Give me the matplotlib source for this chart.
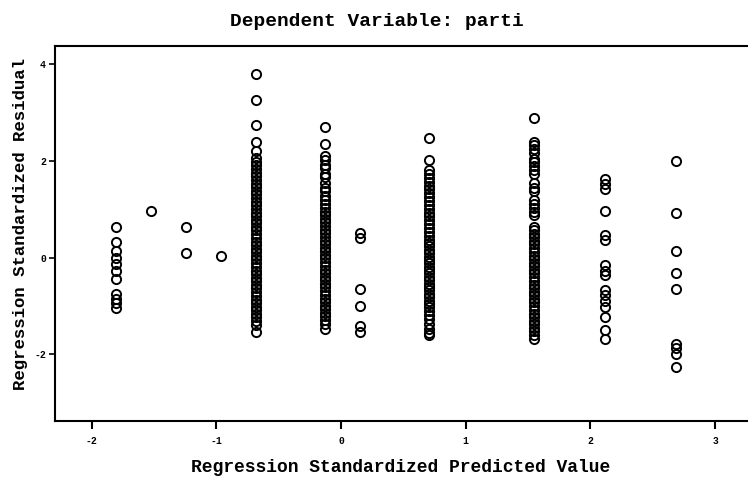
import matplotlib
matplotlib.use("Agg")
import matplotlib.pyplot as plt

plt.rcParams["axes.unicode_minus"] = False

# predicted value groups and their standardized residuals
x_groups = [-1.80, -1.52, -1.24, -0.96, -0.68, -0.13, 0.15, 0.71, 1.55, 2.12, 2.69]

res_a = [0.64, 0.32, 0.14, 0.00, -0.13, -0.27, -0.44, -0.75, -0.85, -0.95, -1.05]
res_b = [0.97]
res_c = [0.64, 0.10]
res_d = [0.03]
res_e = [3.81, 3.27, 2.74, 2.39, 2.20, 2.06, 1.98, 1.91, 1.83, 1.76, 1.68, 1.61,
         1.53, 1.46, 1.38, 1.31, 1.23, 1.16, 1.08, 1.01, 0.93, 0.86, 0.78, 0.71,
         0.63, 0.56, 0.48, 0.41, 0.33, 0.26, 0.18, 0.11, 0.03, -0.04, -0.12,
         -0.19, -0.27, -0.34, -0.42, -0.49, -0.57, -0.64, -0.72, -0.79, -0.87,
         -0.94, -1.02, -1.09, -1.17, -1.24, -1.32, -1.39, -1.54]
res_f = [2.70, 2.35, 2.10, 2.02, 1.92, 1.85, 1.72, 1.66, 1.55, 1.45, 1.38, 1.27,
         1.20, 1.10, 1.03, 0.95, 0.88, 0.80, 0.73, 0.65, 0.58, 0.50, 0.43, 0.35,
         0.28, 0.20, 0.13, 0.05, -0.02, -0.10, -0.17, -0.25, -0.32, -0.40, -0.47,
         -0.55, -0.62, -0.70, -0.77, -0.85, -0.92, -1.00, -1.07, -1.15, -1.22,
         -1.30, -1.37, -1.47]
res_g = [0.50, 0.41, -0.65, -1.00, -1.42, -1.54]
res_h = [2.47, 2.02, 1.81, 1.73, 1.65, 1.57, 1.49, 1.41, 1.33, 1.25, 1.17, 1.09,
         1.01, 0.93, 0.85, 0.77, 0.69, 0.61, 0.53, 0.45, 0.37, 0.30, 0.23, 0.16,
         0.09, 0.02, -0.05, -0.12, -0.19, -0.26, -0.33, -0.40, -0.47, -0.54,
         -0.61, -0.68, -0.75, -0.82, -0.89, -0.96, -1.03, -1.10, -1.20, -1.28,
         -1.38, -1.48, -1.56, -1.61]
res_i = [2.88, 2.40, 2.33, 2.25, 2.17, 2.05, 1.97, 1.89, 1.81, 1.73, 1.55, 1.45,
         1.37, 1.19, 1.11, 1.03, 0.95, 0.88, 0.64, 0.57, 0.49, 0.42, 0.34, 0.27,
         0.19, 0.12, 0.04, -0.03, -0.11, -0.18, -0.26, -0.33, -0.41, -0.48,
         -0.56, -0.63, -0.71, -0.78, -0.86, -0.93, -1.01, -1.08, -1.16, -1.23,
         -1.31, -1.38, -1.46, -1.53, -1.61, -1.68]
res_j = [1.62, 1.52, 1.42, 0.97, 0.47, 0.37, -0.16, -0.27, -0.37, -0.68, -0.78,
         -0.89, -1.02, -1.23, -1.50, -1.69]
res_k = [2.00, 0.93, 0.13, -0.32, -0.65, -1.79, -1.88, -1.99, -2.26]

residuals = [res_a, res_b, res_c, res_d, res_e, res_f, res_g, res_h, res_i, res_j, res_k]

x_ticks = [-2, -1, 0, 1, 2, 3]
y_ticks = [-2, 0, 2, 4]

mono = ["Liberation Mono", "DejaVu Sans Mono"]

fig = plt.figure(figsize=(7.48, 4.84), dpi=100)
ax = fig.add_axes([55 / 748, 63 / 484, 1 - 55 / 748, 375 / 484])

for xv, ys in zip(x_groups, residuals):
    ax.plot([xv] * len(ys), ys, linestyle="none", marker="o", ms=6.6,
            mfc="none", mec="black", mew=1.4)

ax.set_xlim(-2.293, 3.264)
ax.set_ylim(-3.385, 4.38)
ax.set_xticks(x_ticks)
ax.set_yticks(y_ticks)
ax.spines["right"].set_visible(False)
for s in ["top", "left", "bottom"]:
    ax.spines[s].set_linewidth(1.5)
ax.tick_params(axis="x", direction="out", length=6, width=1.5, pad=5)
ax.tick_params(axis="y", direction="out", length=4.5, width=1.2, pad=2)
for lbl in ax.get_xticklabels() + ax.get_yticklabels():
    lbl.set_family(mono)
    lbl.set_fontweight("bold")
    lbl.set_fontsize(7)

fig.text(377 / 748, 1 - 21 / 484, "Dependent Variable: parti", ha="center",
         va="center", family=mono, fontweight="bold", fontsize=14)
fig.text(401 / 748, 1 - 467 / 484, "Regression Standardized Predicted Value",
         ha="center", va="center", family=mono, fontweight="bold", fontsize=13)
fig.text(21 / 748, 1 - 224 / 484, "Regression Standardized Residual",
         ha="center", va="center", rotation=90, family=mono,
         fontweight="bold", fontsize=12.5)

fig.savefig("out.png", dpi=100)
